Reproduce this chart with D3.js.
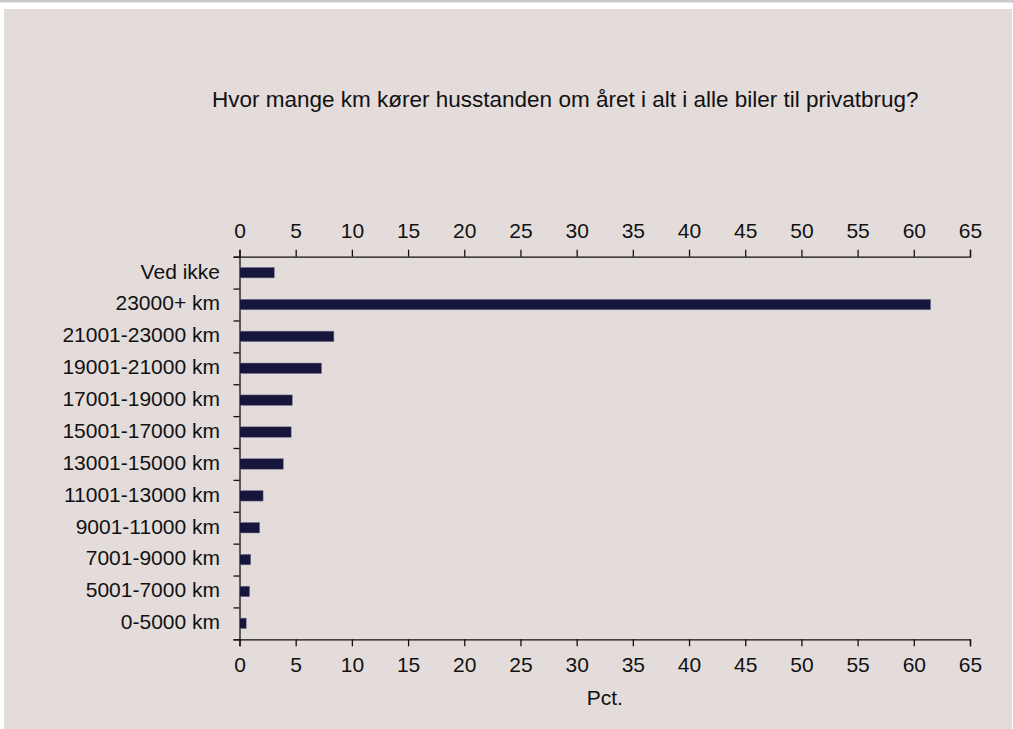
<!DOCTYPE html>
<html>
<head>
<meta charset="utf-8">
<script src="https://cdn.jsdelivr.net/npm/d3@7"></script>
<style>
  body { margin: 0; background: #ffffff; }
  svg text { font-family: "Liberation Sans", Arial, sans-serif; fill: #111; }
</style>
</head>
<body>
<div id="chart"></div>
<script>
// Data (top to bottom)
var categories = ["Ved ikke", "23000+ km", "21001-23000 km", "19001-21000 km",
                  "17001-19000 km", "15001-17000 km", "13001-15000 km",
                  "11001-13000 km", "9001-11000 km", "7001-9000 km",
                  "5001-7000 km", "0-5000 km"];
var values = [3.1, 61.5, 8.4, 7.3, 4.7, 4.6, 3.9, 2.1, 1.8, 1.0, 0.9, 0.6];
var tickValues = [0, 5, 10, 15, 20, 25, 30, 35, 40, 45, 50, 55, 60, 65];
var title = "Hvor mange km kører husstanden om året i alt i alle biler til privatbrug?";
var axisTitle = "Pct.";

//Width and height
var w = 1013;
var h = 729;
var plot = {left: 239.5, right: 970, top: 256.7, bottom: 639.3};

var svg = d3.select("#chart")
  .append("svg")
  .attr("width", w)
  .attr("height", h);

// page strip at the top and the panel
svg.append("rect").attr("x", 0).attr("y", 0).attr("width", w).attr("height", 2.5)
   .style("fill", "#c9c9cf");
svg.append("rect").attr("x", 4).attr("y", 9).attr("width", 1008).attr("height", h - 9)
   .style("fill", "#e3dcdb");

// Scales
var x = d3.scaleLinear()
  .domain([0, 65])
  .range([plot.left, plot.right]);

var y = d3.scaleBand()
  .domain(categories)
  .range([plot.top, plot.bottom])
  .paddingInner(0.67)
  .paddingOuter(0.335);

// Title
svg.append("text")
  .attr("x", 212)
  .attr("y", 107)
  .style("font-size", "22.5px")
  .text(title);

// Top axis
var topAxis = svg.append("g")
  .attr("transform", "translate(0," + plot.top + ")")
  .call(d3.axisTop(x).tickValues(tickValues).tickSize(7).tickPadding(11.7));

// Bottom axis
var bottomAxis = svg.append("g")
  .attr("transform", "translate(0," + plot.bottom + ")")
  .call(d3.axisBottom(x).tickValues(tickValues).tickSize(7).tickPadding(10.8));

[topAxis, bottomAxis].forEach(function(g) {
  g.attr("font-family", null).attr("font-size", null);
  g.selectAll("text").style("font-size", "21px");
  g.selectAll("path, line").style("stroke", "#111").style("stroke-width", 1.3);
});

// Left axis: ticks between categories
var boundary = d3.scaleLinear()
  .domain([0, categories.length])
  .range([plot.top, plot.bottom]);

svg.append("g")
  .attr("transform", "translate(" + plot.left + ",0)")
  .call(d3.axisLeft(boundary).ticks(categories.length).tickSize(6).tickFormat(""))
  .selectAll("path, line")
  .style("stroke", "#111")
  .style("stroke-width", 1.3);

// Left axis labels
var leftLabels = svg.append("g")
  .attr("transform", "translate(" + plot.left + ",0)")
  .call(d3.axisLeft(y).tickSize(0).tickPadding(19.5));
leftLabels.attr("font-family", null).attr("font-size", null);
leftLabels.select(".domain").remove();
leftLabels.selectAll("text")
  .style("font-size", "21px")
  .attr("dy", "0.28em");

// Bars
svg.append("g")
  .selectAll("rect")
  .data(values)
  .enter()
  .append("rect")
    .attr("x", x(0))
    .attr("y", function(d, i) { return y(categories[i]); })
    .attr("width", function(d) { return x(d) - x(0); })
    .attr("height", y.bandwidth())
    .style("fill", "#16163d")
    .style("stroke", "#7f7f95")
    .style("stroke-width", 0.5);

// Axis title
svg.append("text")
  .attr("x", (plot.left + plot.right) / 2)
  .attr("y", 705)
  .attr("text-anchor", "middle")
  .style("font-size", "21px")
  .text(axisTitle);
</script>
</body>
</html>
